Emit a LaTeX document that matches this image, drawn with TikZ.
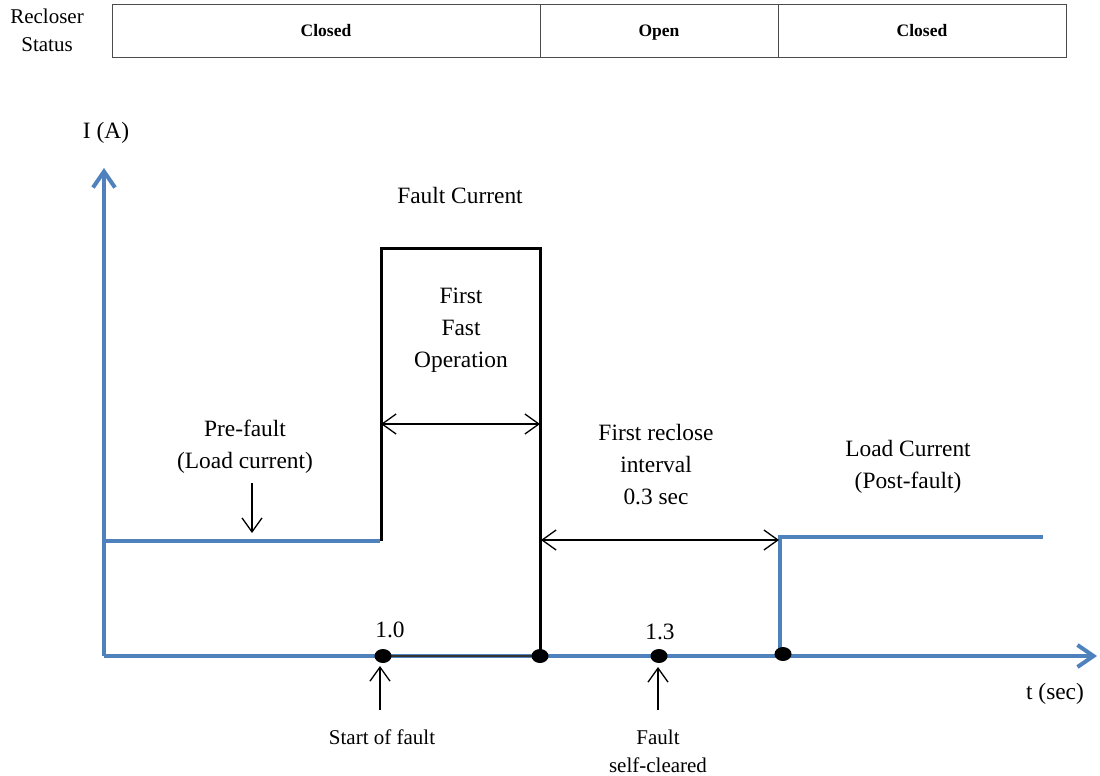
\documentclass[tikz,border=0pt]{standalone}
\usepackage{fontspec}
\setmainfont{Liberation Serif}
\usetikzlibrary{arrows.meta,shapes.geometric}
\definecolor{axisblue}{HTML}{4F81BD}
\begin{document}
\begin{tikzpicture}[x=1pt,y=-1pt,
  lbl/.style={font=\fontsize{23.4}{32}\selectfont, align=center, inner sep=0pt},
  smalllbl/.style={font=\fontsize{21}{28}\selectfont, align=center, inner sep=0pt},
  statbox/.style={draw=black!70, line width=0.8pt, minimum height=53pt, inner sep=0pt,
                  text height=14pt, text depth=2pt,
                  font=\fontsize{17.5}{20}\selectfont\bfseries},
  blueline/.style={draw=axisblue, line width=4pt},
  blueaxis/.style={blueline, -{Straight Barb[length=16pt,width=22pt,line width=4pt]}},
  faultline/.style={draw=black, line width=3pt, line join=miter},
  span/.style={draw=black, line width=1.3pt, {Straight Barb[length=14pt,width=20pt]}-{Straight Barb[length=14pt,width=20pt]}},
  pointer/.style={draw=black, line width=1.3pt, -{Straight Barb[length=14pt,width=20pt]}},
  eventdot/.style={ellipse, fill=black, minimum width=17pt, minimum height=14pt, inner sep=0pt}
]
\useasboundingbox (0,0) rectangle (1100,776);

% recloser status bar
\node[smalllbl] (status) at (47,30) {Recloser\\Status};
\node[statbox, minimum width=428pt] (s1) at (326,30.5) {Closed};
\node[statbox, minimum width=238pt] (s2) at (659,30.5) {Open};
\node[statbox, minimum width=288pt] (s3) at (922,30.5) {Closed};

% key points of the current trace
\coordinate (O) at (104,656);
\coordinate (ytip) at (104,168);
\coordinate (xtip) at (1097,656);
\coordinate (preA) at (104,541);
\coordinate (preB) at (380,541);
\coordinate (fA) at (381,541);
\coordinate (fB) at (381,248);
\coordinate (fC) at (540,248);
\coordinate (fD) at (540,656);
\coordinate (pA) at (780,656);
\coordinate (pB) at (780,537);
\coordinate (pC) at (1043,537);

% axes
\draw[blueaxis] (O) -- (ytip);
\draw[blueaxis] (O) -- (xtip);
\node[lbl] (ylabel) at (106,133) {I (A)};
\node[lbl] (xlabel) at (1055,694) {t (sec)};

% load current before and after the fault
\draw[blueline] (preA) -- (preB);
\draw[blueline] (pA) -- (pB) -- (pC);

% fault current pulse
\draw[faultline] (fA) -- (fB) -- (fC) -- (fD);
\draw[black!80, line width=1.8pt] (383,656) -- (fD);

% events on the time axis
\node[eventdot] (d1) at (383,656) {};
\node[eventdot] (d2) at (540,656) {};
\node[eventdot] (d3) at (659,656) {};
\node[eventdot] (d4) at (783,654) {};

% intervals
\coordinate (opA) at (381,424);
\coordinate (opB) at (540,424);
\draw[span] (opA) -- (opB);
\coordinate (riA) at (541,540);
\coordinate (riB) at (779,540);
\draw[span] (riA) -- (riB);

% pointers
\coordinate (pfA) at (252,483);
\coordinate (pfB) at (252,533);
\draw[pointer] (pfA) -- (pfB);
\coordinate (sfA) at (380,710);
\coordinate (sfB) at (380,666);
\draw[pointer] (sfA) -- (sfB);
\coordinate (scA) at (658,710);
\coordinate (scB) at (658,667);
\draw[pointer] (scA) -- (scB);

% labels
\node[lbl] (faultcur) at (460,195) {Fault Current};
\node[lbl] (firstop) at (461,330) {First\\Fast\\Operation};
\node[lbl] (prefault) at (245,447) {Pre-fault\\(Load current)};
\node[lbl] (reclose) at (656,465) {First reclose\\interval\\0.3 sec};
\node[lbl] (postfault) at (908,467) {Load Current\\(Post-fault)};
\node[lbl] (t1) at (390,630) {1.0};
\node[lbl] (t2) at (660,632) {1.3};
\node[smalllbl] (startf) at (382,737) {Start of fault};
\node[smalllbl] (selfcl) at (658,751) {Fault\\self-cleared};
\end{tikzpicture}
\end{document}
